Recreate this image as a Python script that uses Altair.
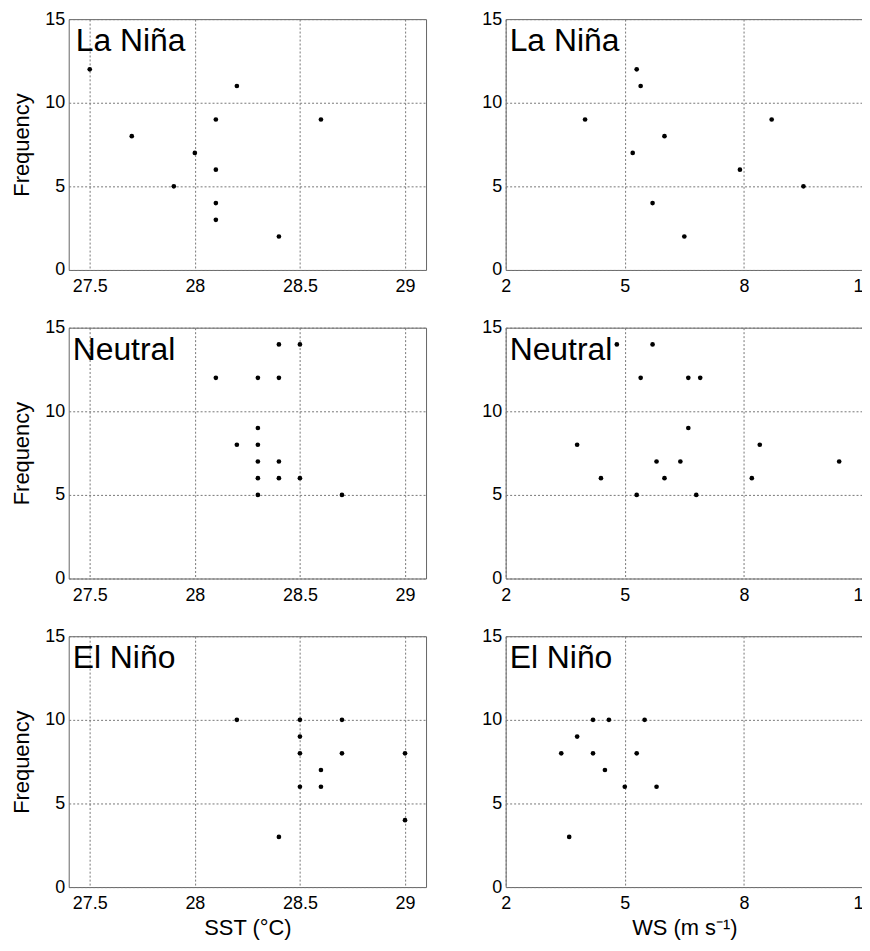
import altair as alt
import pandas as pd

# ---- data ----
lanina_sst = [27.5, 27.7, 27.9, 28.0, 28.1, 28.1, 28.1, 28.1, 28.2, 28.4, 28.6]
lanina_sst_f = [12, 8, 5, 7, 9, 6, 4, 3, 11, 2, 9]

neutral_sst = [28.1, 28.2, 28.3, 28.3, 28.3, 28.3, 28.3, 28.3, 28.4, 28.4, 28.4, 28.4, 28.5, 28.5, 28.7]
neutral_sst_f = [12, 8, 12, 9, 8, 7, 6, 5, 14, 12, 7, 6, 14, 6, 5]

elnino_sst = [28.2, 28.4, 28.5, 28.5, 28.5, 28.5, 28.6, 28.6, 28.7, 28.7, 29.0, 29.0]
elnino_sst_f = [10, 3, 10, 9, 8, 6, 7, 6, 10, 8, 8, 4]

lanina_ws = [4.0, 5.3, 5.4, 5.2, 6.0, 5.7, 6.5, 7.9, 8.7, 9.5]
lanina_ws_f = [9, 12, 11, 7, 8, 4, 2, 6, 9, 5]

neutral_ws = [4.8, 5.7, 5.4, 6.6, 6.9, 6.6, 3.8, 8.4, 5.8, 6.4, 10.4, 4.4, 6.0, 8.2, 5.3, 6.8]
neutral_ws_f = [14, 14, 12, 12, 12, 9, 8, 8, 7, 7, 7, 6, 6, 6, 5, 5]

elnino_ws = [4.2, 4.6, 5.5, 3.8, 3.4, 4.2, 5.3, 4.5, 5.0, 5.8, 3.6]
elnino_ws_f = [10, 10, 10, 9, 8, 8, 8, 7, 6, 6, 3]

sst_ticks = [27.5, 28, 28.5, 29]
ws_ticks = [2, 5, 8, 11]
freq_ticks = [0, 5, 10, 15]

FONT = "Liberation Sans"
W, H = 359, 252


def panel(xs, ys, label, kind, left, bottom, tx):
    df = pd.DataFrame({"x": xs, "y": ys})
    if kind == "sst":
        dom, ticks, title = [27.4, 29.1], sst_ticks, "SST (°C)"
    else:
        dom, ticks, title = [2, 11], ws_ticks, "WS (m s⁻¹)"
    xaxis = alt.Axis(values=ticks, format="~r", title=title if bottom else None)
    yaxis = alt.Axis(values=freq_ticks, format="~r", title="Frequency" if left else None)
    pts = alt.Chart(df).mark_circle(color="black", size=22, opacity=1).encode(
        x=alt.X("x:Q", scale=alt.Scale(domain=dom, nice=False, zero=False), axis=xaxis),
        y=alt.Y("y:Q", scale=alt.Scale(domain=[0, 15], nice=False), axis=yaxis),
    )
    txt = alt.Chart(alt.Data(values=[{"label": label}])).mark_text(
        align="left", baseline="alphabetic", fontSize=32, font=FONT, color="black"
    ).encode(x=alt.value(tx), y=alt.value(32), text="label:N")
    return alt.layer(pts, txt).properties(width=W, height=H)


rows = []
specs = [
    ("La Niña", lanina_sst, lanina_sst_f, lanina_ws, lanina_ws_f, 7),
    ("Neutral", neutral_sst, neutral_sst_f, neutral_ws, neutral_ws_f, 4),
    ("El Niño", elnino_sst, elnino_sst_f, elnino_ws, elnino_ws_f, 4),
]
for i, (lab, sx, sy, wx, wy, tx) in enumerate(specs):
    bottom = i == 2
    left_p = panel(sx, sy, lab, "sst", True, bottom, tx)
    right_p = panel(wx, wy, lab, "ws", False, bottom, 4)
    rows.append(alt.hconcat(left_p, right_p, spacing=54))

chart = alt.vconcat(*rows, spacing=21).properties(
    padding={"left": 2, "top": -1, "right": -12, "bottom": -1}
).configure_view(
    stroke="#666666", strokeWidth=1
).configure_axis(
    domain=False,
    ticks=False,
    grid=True,
    gridColor="#777777",
    gridDash=[2, 2],
    gridWidth=1,
    gridOpacity=1,
    labelFont=FONT,
    labelFontSize=18,
    labelColor="black",
    labelPadding=8,
    titleFont=FONT,
    titleFontSize=22,
    titleFontWeight="normal",
    titleColor="black",
    titlePadding=5,
    labelFlush=False,
    labelOverlap=False,
).configure_axisLeft(labelPadding=4, titlePadding=11)

chart.save("out.html", embed_options={"renderer": "svg", "actions": False})
